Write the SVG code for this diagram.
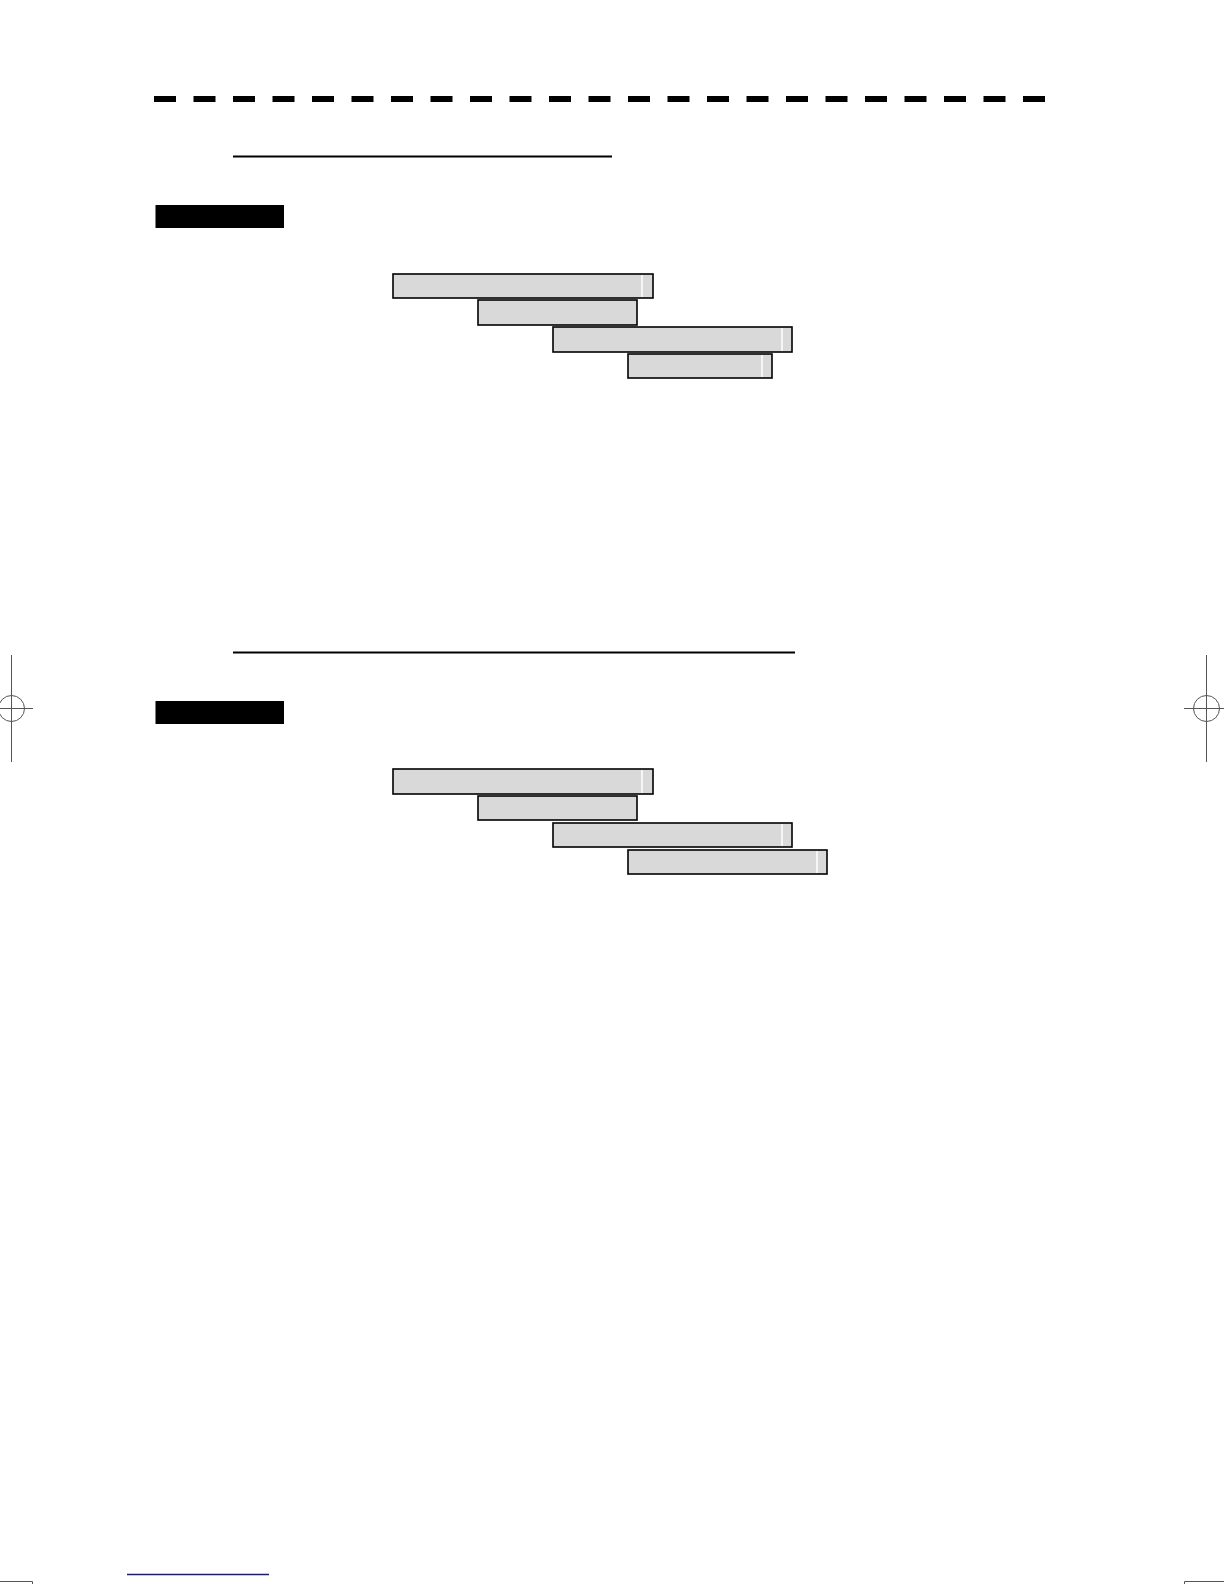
<svg xmlns="http://www.w3.org/2000/svg" width="1224" height="1584" viewBox="0 0 1224 1584">
<style>
.bar{fill:#d9d9d9;stroke:#000;stroke-width:1.6}
.hl{stroke:#fff;stroke-width:1.5}
.ul{stroke:#000;stroke-width:2.2}
.blk{fill:#000}
.reg{stroke:#555;stroke-width:1;fill:none}
</style>
<rect width="1224" height="1584" fill="#fff"/>
<g id="dash-rule">
<line x1="154" y1="99" x2="1046" y2="99" stroke="#000" stroke-width="6" stroke-dasharray="22 17.5"/>
</g>
<g id="section1">
<line class="ul" x1="233" y1="156.5" x2="612" y2="156.5"/>
<rect class="blk" x="155.5" y="205" width="128.5" height="23"/>
</g>
<g id="s1-bar1"><rect class="bar" x="393" y="274" width="260" height="24"/><line class="hl" x1="642" y1="275" x2="642" y2="297"/></g>
<g id="s1-bar2"><rect class="bar" x="478" y="300" width="159" height="25"/></g>
<g id="s1-bar3"><rect class="bar" x="553" y="327" width="239" height="25"/><line class="hl" x1="782" y1="328" x2="782" y2="351"/></g>
<g id="s1-bar4"><rect class="bar" x="628" y="354" width="144" height="24"/><line class="hl" x1="762" y1="355" x2="762" y2="377"/></g>
<g id="section2">
<line class="ul" x1="233" y1="652.5" x2="795" y2="652.5"/>
<rect class="blk" x="155.5" y="701" width="128.5" height="23"/>
</g>
<g id="s2-bar1"><rect class="bar" x="393" y="769" width="260" height="25"/><line class="hl" x1="642" y1="770" x2="642" y2="793"/></g>
<g id="s2-bar2"><rect class="bar" x="478" y="796" width="159" height="24"/></g>
<g id="s2-bar3"><rect class="bar" x="553" y="823" width="239" height="24"/><line class="hl" x1="782" y1="824" x2="782" y2="846"/></g>
<g id="s2-bar4"><rect class="bar" x="628" y="850" width="199" height="24"/><line class="hl" x1="817" y1="851" x2="817" y2="873"/></g>
<g id="reg-left">
<line class="reg" x1="11.5" y1="655" x2="11.5" y2="762"/>
<line class="reg" x1="0" y1="708.5" x2="33" y2="708.5"/>
<circle class="reg" cx="11.5" cy="708.5" r="13"/>
</g>
<g id="reg-right">
<line class="reg" x1="1206.5" y1="655" x2="1206.5" y2="762"/>
<line class="reg" x1="1184" y1="708.5" x2="1224" y2="708.5"/>
<circle class="reg" cx="1206.5" cy="708.5" r="13"/>
</g>
<g id="footer">
<polyline class="reg" points="0,1581.5 32.5,1581.5 32.5,1584"/>
<polyline class="reg" points="1224,1581.5 1184.5,1581.5 1184.5,1584"/>
<line x1="127" y1="1574.5" x2="269" y2="1574.5" stroke="#1a1a80" stroke-width="1.5"/>
</g>
</svg>
